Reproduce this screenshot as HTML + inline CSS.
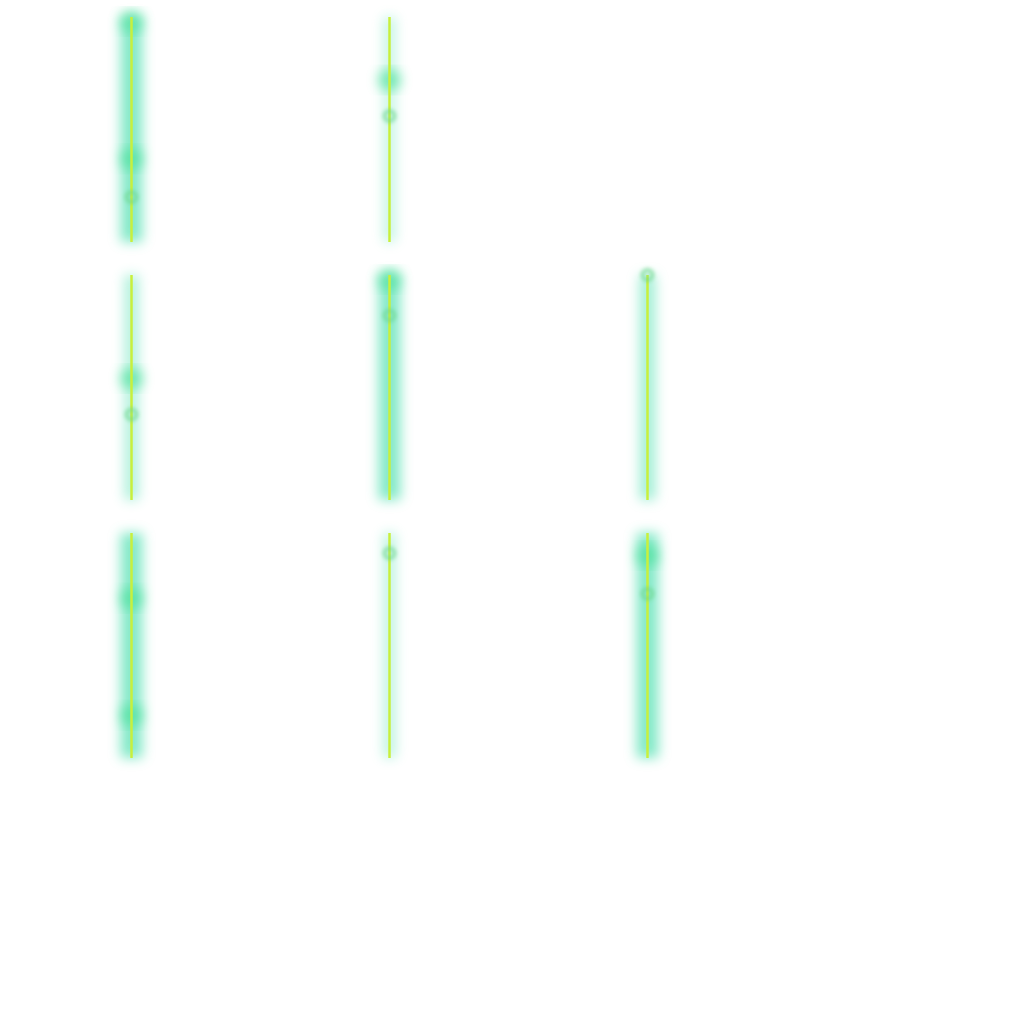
<!DOCTYPE html>
<html><head><meta charset="utf-8">
<style>html,body{margin:0;padding:0;background:#fff;width:1024px;height:1024px;overflow:hidden}</style>
</head><body>
<svg id="chart" width="1024" height="1024" xmlns="http://www.w3.org/2000/svg">
<defs>
<filter id="glow" x="-300%" y="-20%" width="700%" height="140%"><feGaussianBlur stdDeviation="6"/></filter>
<filter id="soft" x="-100%" y="-100%" width="300%" height="300%"><feGaussianBlur stdDeviation="2"/></filter>
</defs>
</svg>
<script>
// panel grid: row, col
const panelRows = [0,0,1,1,1,2,2,2];
const panelCols = [0,1,0,1,2,0,1,2];
// glow strength per panel (0..1)
const glowStrength = [1.0,0.25,0.45,1.0,0.6,1.0,0.3,1.0];
// big blob positions (fraction from top of panel), -1 = none
const blobA = [0.02,0.28,0.46,0.02,-1,0.29,-1,0.10];
const blobB = [0.63,-1,-1,-1,-1,0.81,-1,-1];
// small marker positions
const markerPos = [0.80,0.44,0.62,0.18,0.0,-1,0.09,0.27];

const svg = document.getElementById('chart');
const NS = 'http://www.w3.org/2000/svg';
const x0 = 131.5, dx = 258, y0 = 17, dy = 258, h = 225;
const xs = c => x0 + c*dx;
const ys = (r,f) => y0 + r*dy + f*h;

function mk(tag, attrs){const e=document.createElementNS(NS,tag);for(const k in attrs)e.setAttribute(k,attrs[k]);return e;}

for(let i=0;i<panelRows.length;i++){
  const r=panelRows[i], c=panelCols[i], x=xs(c);
  const g=mk('g',{});
  
  
  svg.appendChild(g);
  const gs=glowStrength[i];
  const glow=mk('rect',{x:x-4-7*gs,y:ys(r,0),width:8+14*gs,height:h,fill:'#4fe0b0',opacity:0.25+0.45*gs,filter:'url(#glow)'});
  
  
  g.appendChild(glow);
  [blobA[i],blobB[i]].forEach(v=>{
    if(v<0)return;
    const b=mk('circle',{cx:x,cy:ys(r,v),r:11,fill:'#48e09a',opacity:0.7,filter:'url(#glow)'});
    
    
    g.appendChild(b);
  });
  const ln=mk('line',{x1:x,x2:x,y1:ys(r,0),y2:ys(r,1),stroke:'#c8f03c','stroke-width':2.5});
  
  
  g.appendChild(ln);
  if(markerPos[i]>=0){
    const m=mk('circle',{cx:x,cy:ys(r,markerPos[i]),r:5,fill:'none',stroke:'#6fd890','stroke-width':3,opacity:0.9,filter:'url(#soft)'});
    
    
    g.appendChild(m);
  }
}
</script>
</body></html>
